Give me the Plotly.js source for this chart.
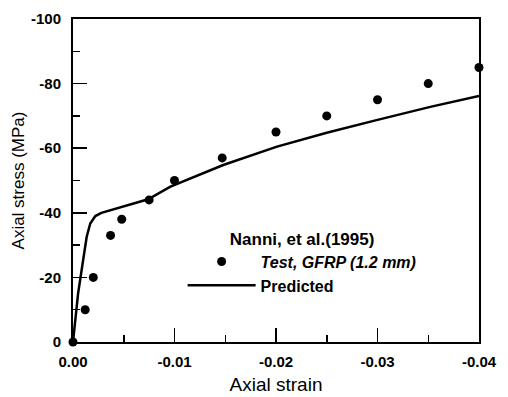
<!DOCTYPE html>
<html>
<head>
<meta charset="utf-8">
<script src="https://cdn.plot.ly/plotly-3.0.1.min.js"></script>
<style>html,body{margin:0;padding:0;background:#fff;}#chart{width:508px;height:397px;}</style>
</head>
<body>
<div id="chart"></div>
<script>
// Test data (Nanni et al. 1995, GFRP 1.2 mm)
var testStrain = [0, -0.0012, -0.0020, -0.0037, -0.0048, -0.0075, -0.0100, -0.0147, -0.0200, -0.0250, -0.0300, -0.0350, -0.0400];
var testStress = [0, -10, -20, -33, -38, -44, -50, -57, -65, -70, -75, -80, -85];
// Predicted curve
var predStrain = [0, -0.0005, -0.0010, -0.00135, -0.0017, -0.0022, -0.0028, -0.0050, -0.0074, -0.0096, -0.0148, -0.0201, -0.0250, -0.0299, -0.0352, -0.0400];
var predStress = [0, -15, -25.4, -32.6, -36.7, -39, -40, -42, -44.2, -48.1, -54.8, -60.5, -64.8, -68.7, -72.8, -76.2];
// Tick labels
var xTickVals = [0, -0.01, -0.02, -0.03, -0.04];
var xTickText = ["0.00", "-0.01", "-0.02", "-0.03", "-0.04"];
var yTickVals = [0, -20, -40, -60, -80, -100];
var yTickText = ["0", "-20", "-40", "-60", "-80", "-100"];

var traces = [
  {x: testStrain, y: testStress, mode: 'markers', type: 'scatter',
   name: '<i>Test, GFRP (1.2 mm)</i>',
   marker: {color: '#000', size: 9}, cliponaxis: false},
  {x: predStrain, y: predStress, mode: 'lines', type: 'scatter',
   name: 'Predicted', line: {color: '#000', width: 2.5}, cliponaxis: false}
];

var tickFont = {family: 'Liberation Sans, Arial, sans-serif', size: 15, color: '#000', weight: 'bold'};
var layout = {
  width: 508, height: 397,
  margin: {l: 73, r: 29, t: 19, b: 55},
  paper_bgcolor: '#fff', plot_bgcolor: '#fff',
  font: {family: 'Liberation Sans, Arial, sans-serif', color: '#000'},
  xaxis: {
    range: [0, -0.04], tickvals: xTickVals, ticktext: xTickText,
    ticks: 'inside', ticklen: 14, tickwidth: 1.5, tickcolor: '#000',
    minor: {dtick: 0.005, ticks: 'inside', ticklen: 7, tickwidth: 1.5, tickcolor: '#000', showgrid: false},
    showline: true, linewidth: 2, linecolor: '#000', mirror: true,
    showgrid: false, zeroline: false, tickfont: tickFont, ticklabelstandoff: 5,
    title: {text: 'Axial strain', font: {size: 19, color: '#000'}, standoff: 9}
  },
  yaxis: {
    range: [0, -100], tickvals: yTickVals, ticktext: yTickText,
    ticks: 'inside', ticklen: 14, tickwidth: 1.5, tickcolor: '#000',
    minor: {dtick: 10, ticks: 'inside', ticklen: 7, tickwidth: 1.5, tickcolor: '#000', showgrid: false},
    showline: true, linewidth: 2, linecolor: '#000', mirror: true,
    showgrid: false, zeroline: false, tickfont: tickFont, ticklabelstandoff: 7,
    title: {text: 'Axial stress (MPa)', font: {size: 17, color: '#000'}, standoff: 2}
  },
  showlegend: true,
  legend: {
    x: 0.27, y: 0.37, xanchor: 'left', yanchor: 'top',
    bgcolor: 'rgba(0,0,0,0)', borderwidth: 0,
    font: {size: 16, color: '#000', weight: 'bold'},
    title: {text: 'Nanni, et al.(1995)', font: {size: 17, color: '#000', weight: 'bold'}, side: 'top center'},
    itemwidth: 68, tracegroupgap: 0
  }
};
Plotly.newPlot('chart', traces, layout, {displayModeBar: false, staticPlot: true});
</script>
</body>
</html>
